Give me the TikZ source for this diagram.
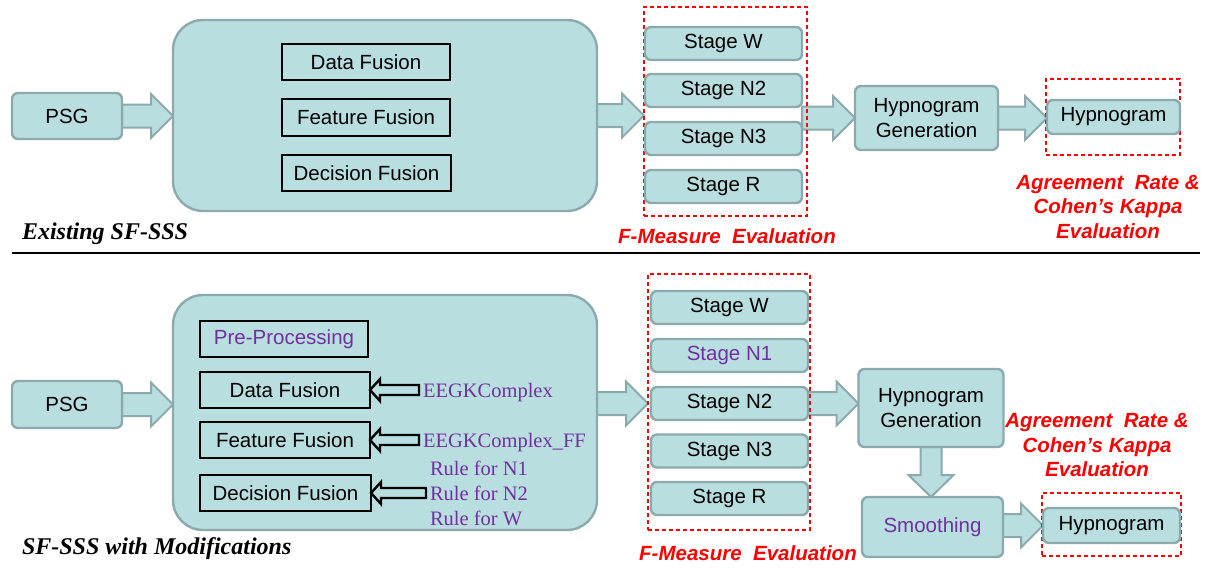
\documentclass[tikz,border=0pt]{standalone}
\usepackage{fontspec}
\setmainfont{Liberation Sans}
\newfontfamily\tnr{Liberation Serif}
\usetikzlibrary{calc}
\definecolor{fillc}{RGB}{185,222,224}
\definecolor{bord}{RGB}{140,170,172}
\definecolor{purp}{RGB}{112,48,160}
\definecolor{redc}{RGB}{255,0,0}
\pgfdeclarelayer{bg}
\pgfdeclarelayer{paper}
\pgfsetlayers{paper,bg,main}
\tikzset{
  x=1pt, y=-1pt,
  every node/.style={font=\fontsize{20.5}{24.5}\selectfont, inner sep=0pt, outer sep=0pt},
  tbox/.style={draw=bord, fill=fillc, line width=2.4pt, rounded corners=6pt, align=center},
  bigbox/.style={draw=bord, fill=fillc, line width=2.4pt, rounded corners=30pt},
  inbox/.style={draw=black, line width=2.2pt},
  reddash/.style={draw=redc, line width=1.5pt, dash pattern=on 4pt off 3pt},
  redlbl/.style={text=redc, font=\fontsize{20.5}{24.5}\selectfont\bfseries\itshape, align=center},
  blockar/.style={draw=bord, fill=fillc, line width=2pt, line join=miter},
  hollowar/.style={draw=black, fill=fillc, line width=2.4pt, line join=miter},
  ttl/.style={font=\fontsize{24}{27}\selectfont\tnr\bfseries\itshape, anchor=base west},
  tlbl/.style={font=\fontsize{20.5}{25}\selectfont\tnr, text=purp, anchor=base west},
}
\newcommand\blockR[3]{%
  \path[blockar] let \p1=(#1.east), \p2=(#2.west), \p3=(#3) in
   (\x1,\y3+11.5pt) -- (\x2-22pt,\y3+11.5pt) -- (\x2-22pt,\y3+22pt) -- (\x2,\y3)
   -- (\x2-22pt,\y3-22pt) -- (\x2-22pt,\y3-11.5pt) -- (\x1,\y3-11.5pt) -- cycle;}
\newcommand\blockD[2]{%
  \path[blockar] let \p1=(#1.south), \p2=(#2.north) in
   (\x1-10.5pt,\y1) -- (\x1-10.5pt,\y2+22pt) -- (\x1-22.5pt,\y2+22pt) -- (\x1,\y2)
   -- (\x1+22.5pt,\y2+22pt) -- (\x1+10.5pt,\y2+22pt) -- (\x1+10.5pt,\y1) -- cycle;}
\newcommand\hollowL[2]{%
  \path[hollowar] let \p1=(#1.west), \p2=(#2.east) in
   (\x1-4pt,\y2+5pt) -- (\x2+10pt,\y2+5pt) -- (\x2+10pt,\y2+11pt) -- (\x2,\y2)
   -- (\x2+10pt,\y2-11pt) -- (\x2+10pt,\y2-5pt) -- (\x1-4pt,\y2-5pt) -- cycle;}
\begin{document}
\begin{tikzpicture}
\begin{pgfonlayer}{paper}
\fill[white] (0,0) rectangle (1206,568);
\end{pgfonlayer}
\useasboundingbox (0,0) rectangle (1206,568);

% ---------------- top: Existing SF-SSS ----------------
\node[tbox, minimum width=110pt, minimum height=46pt] (psgA) at (67,116) {PSG};
\node[bigbox, minimum width=424pt, minimum height=191pt] (bigA) at (385,115.5) {};
\node[inbox, minimum width=168pt, minimum height=36pt] (dfA) at (366,62) {Data Fusion};
\node[inbox, minimum width=168pt, minimum height=37pt] (ffA) at (366,117.5) {Feature Fusion};
\node[inbox, minimum width=169pt, minimum height=36pt] (decA) at (366.5,173) {Decision Fusion};
\node[ttl] (exA) at (22,239) {Existing SF-SSS};

\node[reddash, minimum width=163pt, minimum height=209pt] (redA) at (725.5,111.5) {};
\node[tbox, minimum width=157pt, minimum height=33pt] (swA) at (723.5,43.5) {Stage W};
\node[tbox, minimum width=157pt, minimum height=33pt] (sn2A) at (723.5,90.5) {Stage N2};
\node[tbox, minimum width=157pt, minimum height=33pt] (sn3A) at (723.5,138.5) {Stage N3};
\node[tbox, minimum width=157pt, minimum height=33pt] (srA) at (723.5,186.5) {Stage R};
\node[redlbl, anchor=base] (fmA) at (727,243) {F-Measure\ \ Evaluation};

\node[tbox, minimum width=143pt, minimum height=64pt] (hgA) at (926.5,118) {Hypnogram\\Generation};
\node[reddash, minimum width=134pt, minimum height=76pt] (redB) at (1113,117) {};
\node[tbox, minimum width=133pt, minimum height=34pt] (hypA) at (1113.5,117) {Hypnogram};
\node[redlbl] (agA) at (1108,207) {Agreement\ \ Rate \&\\Cohen’s Kappa\\Evaluation};

% separator
\coordinate (sepL) at (12,253);
\coordinate (sepR) at (1200,253);
\draw[line width=1.3pt] (sepL) -- (sepR);

% ---------------- bottom: SF-SSS with Modifications ----------------
\node[tbox, minimum width=110pt, minimum height=47pt] (psgB) at (67,404.5) {PSG};
\node[bigbox, minimum width=424pt, minimum height=235pt] (bigB) at (385,412.5) {};
\node[inbox, minimum width=168pt, minimum height=36pt, text=purp] (ppB) at (284,339) {Pre-Processing};
\node[inbox, minimum width=170pt, minimum height=36pt] (dfB) at (285,390) {Data Fusion};
\node[inbox, minimum width=170pt, minimum height=36pt] (ffB) at (285,440) {Feature Fusion};
\node[inbox, minimum width=171pt, minimum height=36pt] (decB) at (285.5,493) {Decision Fusion};
\node[tlbl] (l1) at (423,397) {EEGKComplex};
\node[tlbl] (l2) at (423,447) {EEGKComplex\_FF};
\node[tlbl] (l3) at (430,475) {Rule for N1};
\node[tlbl] (l4) at (430,500) {Rule for N2};
\node[tlbl] (l5) at (430,525) {Rule for W};
\node[ttl] (exB) at (22,554) {SF-SSS with Modifications};

\node[reddash, minimum width=162pt, minimum height=256pt] (redC) at (729,402) {};
\node[tbox, minimum width=157pt, minimum height=33pt] (swB) at (729.5,307.5) {Stage W};
\node[tbox, minimum width=157pt, minimum height=33pt, text=purp] (sn1B) at (729.5,355.5) {Stage N1};
\node[tbox, minimum width=157pt, minimum height=33pt] (sn2B) at (729.5,403.5) {Stage N2};
\node[tbox, minimum width=157pt, minimum height=33pt] (sn3B) at (729.5,451) {Stage N3};
\node[tbox, minimum width=157pt, minimum height=33pt] (srB) at (729.5,498.5) {Stage R};
\node[redlbl, anchor=base] (fmB) at (748,560) {F-Measure\ \ Evaluation};

\node[tbox, minimum width=145pt, minimum height=78pt] (hgB) at (931,408) {Hypnogram\\Generation};
\node[tbox, minimum width=141pt, minimum height=60pt, text=purp] (smB) at (932.5,527) {Smoothing};
\node[reddash, minimum width=139pt, minimum height=63pt] (redD) at (1111.5,524.5) {};
\node[tbox, minimum width=137pt, minimum height=35pt] (hypB) at (1111.5,525.5) {Hypnogram};
\node[redlbl] (agB) at (1097,445) {Agreement\ \ Rate \&\\Cohen’s Kappa\\Evaluation};

% hollow arrows
\hollowL{l1}{dfB}
\hollowL{l2}{ffB}
\hollowL{l4}{decB}

% block arrows behind the boxes
\begin{pgfonlayer}{bg}
\blockR{psgA}{bigA}{psgA}
\blockR{bigA}{redA}{bigA}
\blockR{sn2A}{hgA}{hgA}
\blockR{hgA}{hypA}{hgA}
\blockR{psgB}{bigB}{psgB}
\blockR{bigB}{redC}{sn2B}
\blockR{sn2B}{hgB}{sn2B}
\blockR{smB}{hypB}{hypB}
\blockD{hgB}{smB}
\end{pgfonlayer}
\end{tikzpicture}
\end{document}
